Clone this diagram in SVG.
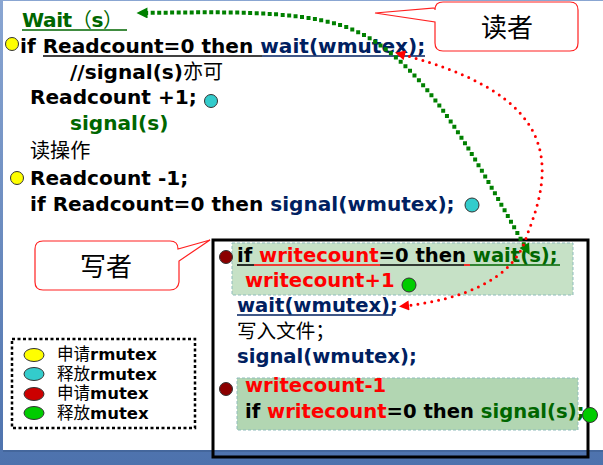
<svg xmlns="http://www.w3.org/2000/svg" width="603" height="465" viewBox="0 0 603 465">
<style>
.c{font-family:"DejaVu Sans","Noto Sans CJK SC",sans-serif;font-weight:bold;font-size:19.6px;fill:#000}
.r{font-size:20.1px}
.zh{font-family:"Noto Sans CJK SC",sans-serif;font-weight:normal}
.nv{fill:#002060}
.gr{fill:#006600}
.rd{fill:#ff0000}
.dot{stroke:#333;stroke-width:1}
.hl{stroke:#8fbcbc;stroke-width:1;stroke-dasharray:3 2}
.ul{stroke-width:1.6}
.call{fill:#fff;stroke:#ff2020;stroke-width:1.2}
.lg{font-size:16.5px}
</style>
<defs>
<linearGradient id="bg" x1="0" y1="0" x2="0" y2="1">
<stop offset="0" stop-color="#8aa6d2"/>
<stop offset="1" stop-color="#4d72ad"/>
</linearGradient>
<marker id="ag" viewBox="0 0 10 10" refX="5" refY="5" markerWidth="13" markerHeight="11" markerUnits="userSpaceOnUse" orient="auto-start-reverse">
<path d="M0,0 L10,5 L0,10 z" fill="#008000"/>
</marker>
<marker id="ar" viewBox="0 0 10 10" refX="5" refY="5" markerWidth="12" markerHeight="10" markerUnits="userSpaceOnUse" orient="auto-start-reverse">
<path d="M0,0 L10,5 L0,10 z" fill="#ff0000"/>
</marker>
</defs>
<rect x="0" y="0" width="603" height="465" fill="url(#bg)"/>
<rect x="3" y="2" width="600" height="450" fill="#3a5a8a" opacity="0.5"/>
<rect x="3" y="1" width="600" height="449" fill="#fff"/>

<g id="reader">
<text class="c r gr" x="22" y="27" textLength="101" lengthAdjust="spacing">Wait<tspan class="zh">（</tspan>s<tspan class="zh">）</tspan></text>
<line class="ul" x1="22" y1="30" x2="127" y2="30" stroke="#006600"/>
<circle class="dot" cx="12" cy="44" r="6.5" fill="#ffff00"/>
<text class="c r" x="20" y="53">if Readcount=0 then <tspan class="nv">wait(wmutex);</tspan></text>
<line class="ul" x1="43" y1="56" x2="262" y2="56" stroke="#000"/>
<line class="ul" x1="262" y1="56" x2="425" y2="56" stroke="#002060"/>
<text class="c r" x="70" y="79">//signal(s)<tspan class="zh">亦可</tspan></text>
<text class="c r" x="30" y="104">Readcount +1;</text>
<circle class="dot" cx="211" cy="101" r="6.5" fill="#33cccc"/>
<text class="c r gr" x="70" y="130">signal(s)</text>
<text class="c r zh" x="30" y="158">读操作</text>
<circle class="dot" cx="17" cy="178" r="6.5" fill="#ffff00"/>
<text class="c r" x="30" y="185">Readcount -1;</text>
<text class="c r" x="30" y="211">if Readcount=0 then <tspan class="nv">signal(wmutex);</tspan></text>
<circle class="dot" cx="472" cy="205" r="7" fill="#33cccc"/>
</g>

<g id="reader-callout">
<path class="call" d="M443,2 H570 Q578,2 578,10 V43 Q578,51 570,51 H443 Q435,51 435,43 V22 L375,13 L435,8 V10 Q435,2 443,2 Z"/>
<text class="zh" x="507" y="37" font-size="26" text-anchor="middle" fill="#000">读者</text>
</g>

<g id="writer-callout">
<path class="call" d="M43,241 H170 Q178,241 178,249 L210,240 L179,261 V282 Q178,290 170,290 H43 Q35,290 35,282 V249 Q35,241 43,241 Z"/>
<text class="zh" x="106" y="276" font-size="26" text-anchor="middle" fill="#000">写者</text>
</g>

<g id="writer">
<rect x="213" y="240" width="375" height="217" fill="none" stroke="#000" stroke-width="3"/>
<rect class="hl" x="232" y="243" width="341" height="52" fill="#c6e1c6"/>
<rect class="hl" x="237" y="378" width="341" height="52" fill="#b2d6b2"/>
<circle class="dot" cx="226" cy="257" r="6.5" fill="#8b0000"/>
<text class="c" x="237" y="262">if <tspan class="rd">writecount</tspan>=0 then <tspan class="gr">wait(s);</tspan></text>
<line class="ul" x1="237" y1="265" x2="254" y2="265" stroke="#000"/>
<line class="ul" x1="254" y1="265" x2="380" y2="265" stroke="#ff0000"/>
<line class="ul" x1="380" y1="265" x2="464" y2="265" stroke="#000"/>
<line class="ul" x1="464" y1="265" x2="470" y2="265" stroke="#ff0000"/>
<line class="ul" x1="470" y1="265" x2="560" y2="265" stroke="#006600"/>
<text class="c rd" x="245" y="287">writecount+1</text>
<circle class="dot" cx="409" cy="285" r="7" fill="#00cc00"/>
<text class="c nv" x="237" y="312">wait(wmutex);</text>
<line class="ul" x1="237" y1="315" x2="393" y2="315" stroke="#002060"/>
<text class="c zh" x="237" y="338">写入文件；</text>
<text class="c nv" x="237" y="363">signal(wmutex);</text>
<circle class="dot" cx="226" cy="389" r="6.5" fill="#8b0000"/>
<text class="c rd" x="245" y="392">writecount-1</text>
<text class="c" x="245" y="418">if <tspan class="rd">writecount</tspan>=0 then <tspan class="gr">signal(s);</tspan></text>
<circle class="dot" cx="590" cy="415" r="7.5" fill="#00cc00"/>
</g>

<g id="legend">
<rect x="12" y="339" width="183" height="89" fill="none" stroke="#000" stroke-width="2.5" stroke-dasharray="3 2.5"/>
<ellipse class="dot" cx="34" cy="355" rx="10" ry="6.5" fill="#ffff00"/>
<ellipse class="dot" cx="34" cy="374" rx="10" ry="6.5" fill="#33cccc"/>
<ellipse class="dot" cx="34" cy="394" rx="10" ry="6.5" fill="#cc0000"/>
<ellipse class="dot" cx="34" cy="413" rx="10" ry="6.5" fill="#00cc00"/>
<text class="c lg" x="57" y="360"><tspan class="zh">申请</tspan>rmutex</text>
<text class="c lg" x="57" y="380"><tspan class="zh">释放</tspan>rmutex</text>
<text class="c lg" x="57" y="399"><tspan class="zh">申请</tspan>mutex</text>
<text class="c lg" x="57" y="419"><tspan class="zh">释放</tspan>mutex</text>
</g>

<g id="connectors" fill="none">
<path d="M527,250 C470,150 420,50 340,25 C290,10 220,12 142,13" stroke="#008000" stroke-width="4" stroke-linecap="square" stroke-dasharray="0 6.5" marker-start="url(#ag)" marker-end="url(#ag)"/>
<path d="M404,306 C460,300 515,280 527,235 C555,165 560,95 400,54" stroke="#ff0000" stroke-width="3" stroke-linecap="round" stroke-dasharray="0 7" marker-start="url(#ar)" marker-end="url(#ar)"/>
</g>
</svg>
